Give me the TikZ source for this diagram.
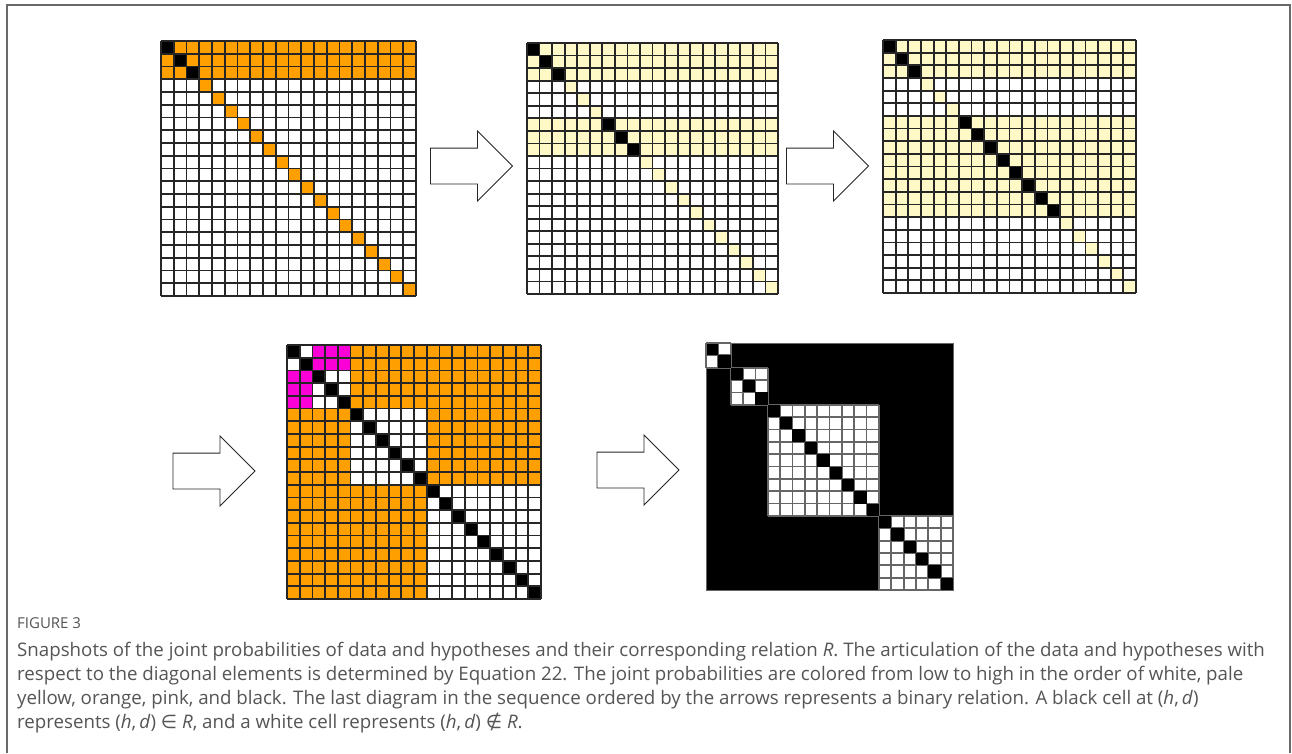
\documentclass[tikz,border=0pt]{standalone}
\usepackage{fontspec}
\setmainfont{Open Sans}
\newfontfamily\symbolfont{DejaVu Sans}
\usepackage{xcolor}
\usetikzlibrary{shapes.arrows}

\definecolor{cellorange}{RGB}{255,160,0}
\definecolor{cellyellow}{RGB}{255,249,200}
\definecolor{cellpink}{RGB}{250,0,215}
\definecolor{captiongray}{RGB}{85,85,85}
\definecolor{framegray}{RGB}{105,105,105}

\newcommand{\mcell}[3]{\fill[#1] (#3,#2) rectangle ++(1,1);}
\newcommand{\drawgrid}{\foreach \k in {0,...,20}{\draw[gridline] (\k,0) -- (\k,20); \draw[gridline] (0,\k) -- (20,\k);}}

\begin{document}
\begin{tikzpicture}[
  x=1pt,y=-1pt,
  gridline/.style={draw=black!85,line width=1.8pt},
  lightline/.style={draw=black!60,line width=1.8pt},
  blockarrow/.style={single arrow,draw=black!85,line width=0.9pt,fill=white,
    minimum height=82,inner xsep=0pt,inner ysep=17.5pt,
    single arrow head extend=17,single arrow head indent=0pt},
  frame/.style={draw=framegray,line width=1.6pt},
  caption/.style={anchor=north west,align=left,inner sep=0pt,text=captiongray,
    font=\fontsize{18.7}{24}\selectfont},
  label/.style={anchor=base west,inner sep=0pt,text=captiongray,
    font=\fontsize{15}{16}\selectfont}
]
\fill[white] (0,0) rectangle (1292,753);
\useasboundingbox (0,0) rectangle (1292,753);
\draw[frame] (7,753) -- (7,5) -- (1290,5) -- (1290,753);

\coordinate (gridA) at (161,41);
\coordinate (gridB) at (527,43);
\coordinate (gridC) at (883,40);
\coordinate (gridD) at (287,345);
\coordinate (gridE) at (706,343);

\begin{scope}[shift={(gridA)},x=12.75pt,y=-12.75pt]
\fill[cellorange] (0,0) rectangle (20,3);
\foreach \i in {3,...,19} {\mcell{cellorange}{\i}{\i}}
\foreach \i in {0,1,2} {\mcell{black}{\i}{\i}}
\drawgrid
\end{scope}

\begin{scope}[shift={(gridB)},x=12.55pt,y=-12.55pt]
\fill[cellyellow] (0,0) rectangle (20,3);
\fill[cellyellow] (0,6) rectangle (20,9);
\foreach \i in {3,4,5,9,10,...,19} {\mcell{cellyellow}{\i}{\i}}
\foreach \i in {0,1,2,6,7,8} {\mcell{black}{\i}{\i}}
\drawgrid
\end{scope}

\begin{scope}[shift={(gridC)},x=12.65pt,y=-12.65pt]
\fill[cellyellow] (0,0) rectangle (20,3);
\fill[cellyellow] (0,6) rectangle (20,14);
\foreach \i in {3,4,5,14,15,...,19} {\mcell{cellyellow}{\i}{\i}}
\foreach \i in {0,1,2,6,7,...,13} {\mcell{black}{\i}{\i}}
\drawgrid
\end{scope}

\begin{scope}[shift={(gridD)},x=12.7pt,y=-12.7pt]
\fill[cellorange] (0,0) rectangle (20,20);
\foreach \a/\b in {0/2,2/5,5/11,11/20} {\fill[white] (\a,\a) rectangle (\b,\b);}
\fill[cellpink] (2,0) rectangle (5,2);
\fill[cellpink] (0,2) rectangle (2,5);
\foreach \i in {0,...,19} {\mcell{black}{\i}{\i}}
\drawgrid
\end{scope}

\begin{scope}[shift={(gridE)},x=12.35pt,y=-12.35pt]
\fill[black] (0,0) rectangle (20,20);
\foreach \a/\b in {0/2,2/5,5/14,14/20} {
  \fill[white] (\a,\a) rectangle (\b,\b);
  \foreach \i in {\a,...,\b} {\draw[lightline] (\a,\i) -- (\b,\i); \draw[lightline] (\i,\a) -- (\i,\b);}
}
\foreach \i in {0,...,19} {\mcell{black}{\i}{\i}}
\draw[lightline,line width=0.8pt] (0,0) rectangle (20,20);
\end{scope}

\node[blockarrow] (arrowA) at (462.5,166) {};
\node[blockarrow] (arrowB) at (818.5,166) {};
\node[blockarrow] (arrowC) at (205,471) {};
\node[blockarrow] (arrowD) at (629,470) {};

\node[label] (figlabel) at (17,628) {FIGURE 3};
\node[caption] (caption) at (17,642) {Snapshots of the joint probabilities of data and hypotheses and their corresponding relation \textit{R}. The articulation of the data and hypotheses with\\
respect to the diagonal elements is determined by Equation 22. The joint probabilities are colored from low to high in the order of white, pale\\
yellow, orange, pink, and black. The last diagram in the sequence ordered by the arrows represents a binary relation. A black cell at (\textit{h},\,\textit{d})\\
represents (\textit{h},\,\textit{d}) {\symbolfont ∈} \textit{R}, and a white cell represents (\textit{h},\,\textit{d}) {\symbolfont ∉} \textit{R}.};
\end{tikzpicture}
\end{document}
